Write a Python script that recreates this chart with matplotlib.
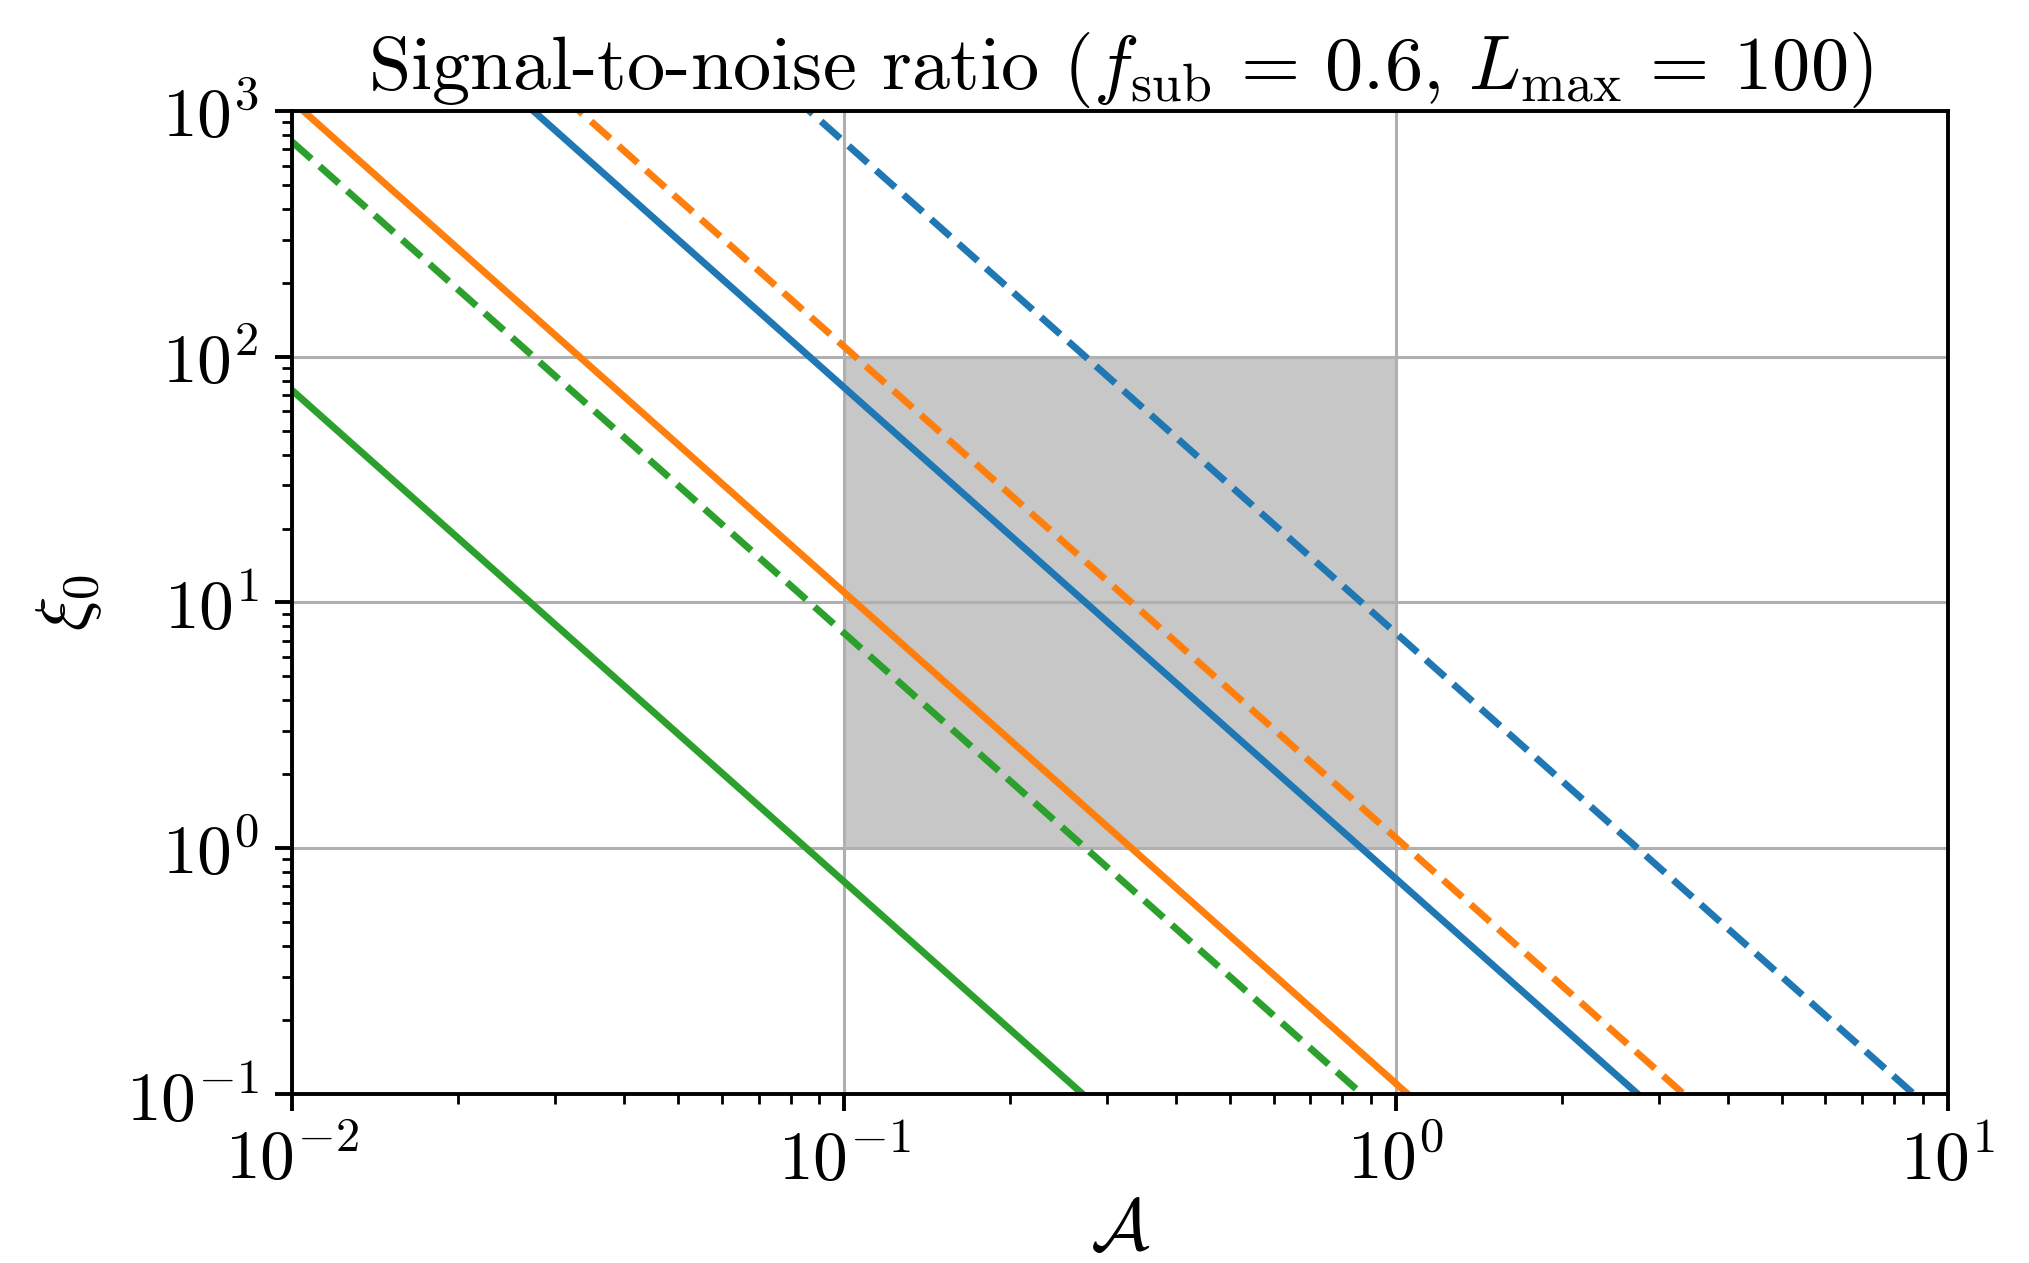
import numpy as np
import matplotlib
matplotlib.use("Agg")
import matplotlib.pyplot as plt

# Computer Modern look without LaTeX
plt.rcParams["font.family"] = "serif"
plt.rcParams["font.serif"] = ["cmr10", "DejaVu Serif"]
plt.rcParams["mathtext.fontset"] = "cm"
plt.rcParams["axes.unicode_minus"] = False
plt.rcParams["axes.formatter.use_mathtext"] = True
plt.rcParams["font.size"] = 25

# line endpoints: xi_0 at A = 1e-2 and A = 1e1
A_ends = [1e-2, 1e1]
blue_solid = [7500, 7.5e-3]
blue_dashed = [75000, 7.5e-2]
orange_solid = [1100, 1.1e-3]
orange_dashed = [11000, 1.1e-2]
green_solid = [73, 7.3e-5]
green_dashed = [750, 7.5e-4]

# shaded region
box_A = [0.1, 1.0]
box_xi = [1.0, 100.0]

fig = plt.figure(figsize=(10.145, 6.315), dpi=200)
ax = fig.add_axes([0.144, 0.134, 0.816, 0.778])

ax.fill_between(box_A, box_xi[0], box_xi[1], color="#c7c7c7", linewidth=0, zorder=1)

lw = 2.5
ax.plot(A_ends, blue_solid, color="#1f77b4", lw=lw)
ax.plot(A_ends, blue_dashed, color="#1f77b4", lw=lw, ls="--")
ax.plot(A_ends, orange_solid, color="#ff7f0e", lw=lw)
ax.plot(A_ends, orange_dashed, color="#ff7f0e", lw=lw, ls="--")
ax.plot(A_ends, green_solid, color="#2ca02c", lw=lw)
ax.plot(A_ends, green_dashed, color="#2ca02c", lw=lw, ls="--")

ax.set_xscale("log")
ax.set_yscale("log")
ax.set_xlim(1e-2, 1e1)
ax.set_ylim(1e-1, 1e3)

ax.grid(True, which="major", color="#b0b0b0", lw=1.1)
for s in ax.spines.values():
    s.set_linewidth(1.4)
ax.tick_params(which="major", length=6, width=1.4, labelsize=25, pad=6)
ax.tick_params(which="minor", length=3.5, width=1.0)

ax.set_xlabel(r"$\mathcal{A}$", fontsize=26, labelpad=2)
ax.set_ylabel(r"$\xi_0$", fontsize=26, labelpad=8)
ax.set_title(r"Signal-to-noise ratio ($f_\mathrm{sub}\,=\,0.6$, $L_\mathrm{max}\,=\,100$)",
             fontsize=27.5, pad=8)

fig.savefig("out.png", dpi=200)
